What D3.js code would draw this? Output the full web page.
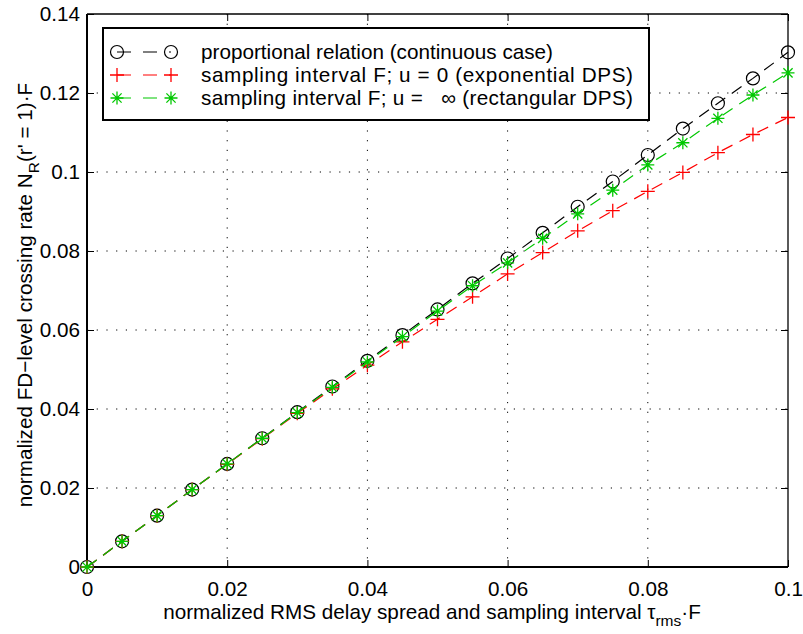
<!DOCTYPE html>
<html>
<head>
<meta charset="utf-8">
<script src="https://cdn.jsdelivr.net/npm/d3@7"></script>
<style>
  body { margin: 0; background: #fff; }
  svg { display: block; font-family: "Liberation Sans", Arial, sans-serif; }
</style>
</head>
<body>
<div id="chart"></div>
<script>
// x positions (normalized delay spread / sampling interval)
const xValues = [0, 0.005, 0.01, 0.015, 0.02, 0.025, 0.03, 0.035, 0.04, 0.045, 0.05,
  0.055, 0.06, 0.065, 0.07, 0.075, 0.08, 0.085, 0.09, 0.095, 0.1];

// proportional relation (continuous case)
const continuousValues = [0, 0.0065, 0.0130, 0.0196, 0.0261, 0.0326, 0.0392, 0.0457, 0.0522, 0.0587, 0.0652,
  0.0718, 0.0781, 0.0846, 0.0912, 0.0976, 0.1043, 0.1110, 0.1174, 0.1237, 0.1303];

// sampling interval F; u = 0 (exponential DPS)
const exponentialValues = [0, 0.0065, 0.0130, 0.0196, 0.0260, 0.0325, 0.0389, 0.0451, 0.0511, 0.0570, 0.0627,
  0.0684, 0.0742, 0.0796, 0.0851, 0.0902, 0.0951, 0.0999, 0.1049, 0.1095, 0.1138];

// sampling interval F; u = inf (rectangular DPS)
const rectangularValues = [0, 0.0065, 0.0130, 0.0196, 0.0261, 0.0326, 0.0391, 0.0455, 0.0519, 0.0583, 0.0648,
  0.0712, 0.0770, 0.0832, 0.0894, 0.0954, 0.1018, 0.1074, 0.1136, 0.1195, 0.1251];

const xTicks = [0, 0.02, 0.04, 0.06, 0.08, 0.1];
const yTicks = [0, 0.02, 0.04, 0.06, 0.08, 0.1, 0.12, 0.14];

const legendLabels = [
  "proportional relation (continuous case)",
  "sampling interval F; u = 0 (exponential DPS)",
  "sampling interval F; u =   \u221e (rectangular DPS)"
];

const width = 803, height = 634;
const margin = { top: 14, right: 15, bottom: 67, left: 87 };
const plotW = width - margin.left - margin.right;
const plotH = height - margin.top - margin.bottom;
const fontSize = "20.7px";

const series = [
  { values: continuousValues, color: "#000", marker: "circle" },
  { values: exponentialValues, color: "#ff0000", marker: "plus" },
  { values: rectangularValues, color: "#00c800", marker: "star" }
];

const svg = d3.select("#chart").append("svg")
  .attr("width", width)
  .attr("height", height);

const g = svg.append("g")
  .attr("transform", `translate(${margin.left}, ${margin.top})`);

const x = d3.scaleLinear().domain([0, 0.1]).range([0, plotW]);
const y = d3.scaleLinear().domain([0, 0.14]).range([plotH, 0]);

const fmt = d => d === 0 ? "0" : String(+d.toFixed(2));

// dotted grid
g.append("g").selectAll("line")
  .data(xTicks.slice(1, -1))
  .enter().append("line")
  .attr("x1", d => x(d)).attr("x2", d => x(d))
  .attr("y1", 0).attr("y2", plotH)
  .attr("stroke", "#000").attr("stroke-width", 1)
  .attr("stroke-dasharray", "1.2,8.5");

g.append("g").selectAll("line")
  .data(yTicks.slice(1, -1))
  .enter().append("line")
  .attr("x1", 0).attr("x2", plotW)
  .attr("y1", d => y(d)).attr("y2", d => y(d))
  .attr("stroke", "#000").attr("stroke-width", 1)
  .attr("stroke-dasharray", "1.2,8.5");

// axes with inward ticks
const styleAxis = sel => {
  sel.select(".domain").remove();
  sel.selectAll(".tick line").attr("stroke", "#000").attr("stroke-width", 1);
  sel.selectAll(".tick text").attr("fill", "#000").style("font-size", fontSize);
};

g.append("g")
  .attr("transform", `translate(0, ${plotH})`)
  .call(d3.axisBottom(x).tickValues(xTicks).tickFormat(fmt).tickSizeInner(-7).tickSizeOuter(0).tickPadding(14))
  .call(styleAxis);

g.append("g")
  .call(d3.axisTop(x).tickValues(xTicks).tickFormat("").tickSizeInner(-7).tickSizeOuter(0))
  .call(styleAxis);

g.append("g")
  .call(d3.axisLeft(y).tickValues(yTicks).tickFormat(fmt).tickSizeInner(-7).tickSizeOuter(0).tickPadding(7))
  .call(styleAxis);

g.append("g")
  .attr("transform", `translate(${plotW}, 0)`)
  .call(d3.axisRight(y).tickValues(yTicks).tickFormat("").tickSizeInner(-7).tickSizeOuter(0))
  .call(styleAxis);

// box
g.append("line").attr("x1", 0).attr("x2", plotW).attr("y1", 0).attr("y2", 0)
  .attr("stroke", "#000").attr("stroke-width", 1.3);
g.append("line").attr("x1", plotW).attr("x2", plotW).attr("y1", 0).attr("y2", plotH)
  .attr("stroke", "#000").attr("stroke-width", 1.3);
g.append("line").attr("x1", 0).attr("x2", plotW).attr("y1", plotH).attr("y2", plotH)
  .attr("stroke", "#000").attr("stroke-width", 2);
g.append("line").attr("x1", 0).attr("x2", 0).attr("y1", 0).attr("y2", plotH)
  .attr("stroke", "#000").attr("stroke-width", 2);

// marker drawing
const drawMarker = (sel, type, color) => {
  if (type === "circle") {
    sel.append("circle").attr("r", 6.5)
      .attr("fill", "none").attr("stroke", color).attr("stroke-width", 1.2);
  } else if (type === "plus") {
    sel.append("path").attr("d", "M-7,0H7M0,-7V7")
      .attr("stroke", color).attr("stroke-width", 1.3).attr("fill", "none");
  } else {
    sel.append("path").attr("d", "M-6.5,0H6.5M0,-6.5V6.5M-4.6,-4.6L4.6,4.6M-4.6,4.6L4.6,-4.6")
      .attr("stroke", color).attr("stroke-width", 1.3).attr("fill", "none");
  }
};

const line = d3.line()
  .x((d, i) => x(xValues[i]))
  .y(d => y(d));

series.forEach(s => {
  g.append("path")
    .datum(s.values)
    .attr("fill", "none")
    .attr("stroke", s.color)
    .attr("stroke-width", 1.2)
    .attr("stroke-dasharray", "12,8")
    .attr("d", line);

  g.append("g").selectAll("g")
    .data(s.values)
    .enter().append("g")
    .attr("transform", (d, i) => `translate(${x(xValues[i])}, ${y(d)})`)
    .each(function () { drawMarker(d3.select(this), s.marker, s.color); });
});

// legend
const legend = svg.append("g");
legend.append("rect")
  .attr("x", 103).attr("y", 28).attr("width", 546).attr("height", 92)
  .attr("fill", "#fff").attr("stroke", "#000").attr("stroke-width", 2);

const rowY = [52, 75, 98];
const rowLen = [352, 432, 432];
series.forEach((s, i) => {
  legend.append("line")
    .attr("x1", 117).attr("x2", 171).attr("y1", rowY[i]).attr("y2", rowY[i])
    .attr("stroke", s.color).attr("stroke-width", 1.2)
    .attr("stroke-dasharray", "14,12");
  [117, 171].forEach(mx => {
    const m = legend.append("g").attr("transform", `translate(${mx}, ${rowY[i]})`);
    drawMarker(m, s.marker, s.color);
  });
  legend.append("text")
    .attr("x", 201).attr("y", rowY[i])
    .attr("dy", "0.35em")
    .attr("textLength", rowLen[i])
    .attr("lengthAdjust", "spacing")
    .style("font-size", fontSize)
    .style("white-space", "pre")
    .text(legendLabels[i]);
});

// x label
const xLabel = svg.append("text")
  .attr("x", 432).attr("y", 619)
  .attr("text-anchor", "middle")
  .style("font-size", fontSize);
xLabel.append("tspan").text("normalized RMS delay spread and sampling interval \u03c4");
xLabel.append("tspan").attr("dy", 7).style("font-size", "15.5px").text("rms");
xLabel.append("tspan").attr("dy", -7).text("\u00b7F");

// y label
const yLabel = svg.append("text")
  .attr("transform", "translate(32, 295) rotate(-90)")
  .attr("text-anchor", "middle")
  .style("font-size", fontSize);
yLabel.append("tspan").text("normalized FD\u2212level crossing rate N");
yLabel.append("tspan").attr("dy", 7).style("font-size", "15.5px").text("R");
yLabel.append("tspan").attr("dy", -7).text("(r' = 1)\u00b7F");
</script>
</body>
</html>
